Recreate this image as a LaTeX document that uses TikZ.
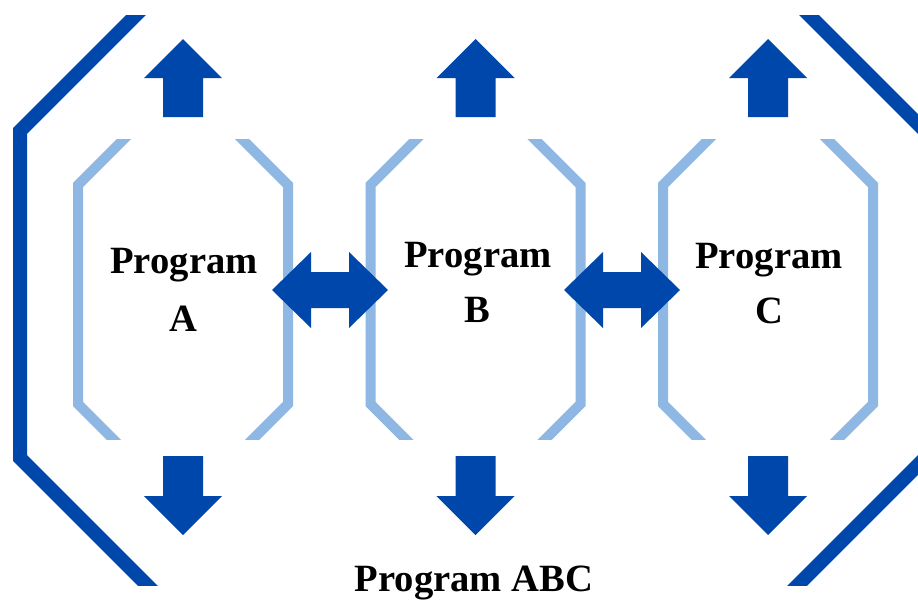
\documentclass[tikz,border=0pt]{standalone}
\usepackage{fontspec}
\setmainfont{Liberation Serif}
\definecolor{darkb}{HTML}{0047AB}
\definecolor{lightb}{HTML}{8EB8E3}
\begin{document}
\begin{tikzpicture}[x=1pt,y=-1pt,
  outerbr/.style={draw=darkb,line width=14pt,line join=miter},
  innerbr/.style={draw=lightb,line width=10pt,line join=miter},
  lbl/.style={font=\bfseries\fontsize{38.6}{46}\selectfont,inner sep=0pt,anchor=base,text=black},
  pics/uparr/.style={code={\fill[darkb] (0,0)--(39,39)--(20,39)--(20,78)--(-20,78)--(-20,39)--(-39,39)--cycle;}},
  pics/downarr/.style={code={\fill[darkb] (0,0)--(39,-39)--(20,-39)--(20,-79)--(-20,-79)--(-20,-39)--(-39,-39)--cycle;}},
  pics/dblarr/.style={code={\fill[darkb] (-58,0)--(-19,-38)--(-19,-18)--(19,-18)--(19,-38)--(58,0)--(19,38)--(19,18)--(-19,18)--(-19,38)--cycle;}},
]
\useasboundingbox (0,0) rectangle (918,600);
\clip (0,0) rectangle (918,600);
\fill[white] (0,0) rectangle (918,600);

% outer brackets
\begin{scope}
  \clip (0,15) rectangle (918,585);
  \draw[outerbr] (146,5)--(20,131)--(20,458)--(157,595);
  \draw[outerbr] (799,5)--(925,131)--(925,458)--(788,595);
\end{scope}

% light brackets
\begin{scope}
  \clip (0,139) rectangle (918,439);
  \foreach \c in {183,475.5,768}{
    \draw[innerbr] ({\c-105+56},129)--({\c-105},185)--({\c-105},404)--({\c-105+45},449);
    \draw[innerbr] ({\c+105-56},129)--({\c+105},185)--({\c+105},404)--({\c+105-45},449);
  }
\end{scope}

% vertical arrows
\foreach \c in {183,475.5,768}{
  \pic at (\c,39) {uparr};
  \pic at (\c,535) {downarr};
}
% double arrows
\pic at (330,290) {dblarr};
\pic at (622,290) {dblarr};

% labels
\node[lbl] (pA) at (184,273) {Program};
\node[lbl] (lA) at (183,331) {A};
\node[lbl] (pB) at (478,267) {Program};
\node[lbl] (lB) at (477,322) {B};
\node[lbl] (pC) at (769,268) {Program};
\node[lbl] (lC) at (769,323) {C};
\node[lbl] (pABC) at (474,591) {Program ABC};
\end{tikzpicture}
\end{document}
